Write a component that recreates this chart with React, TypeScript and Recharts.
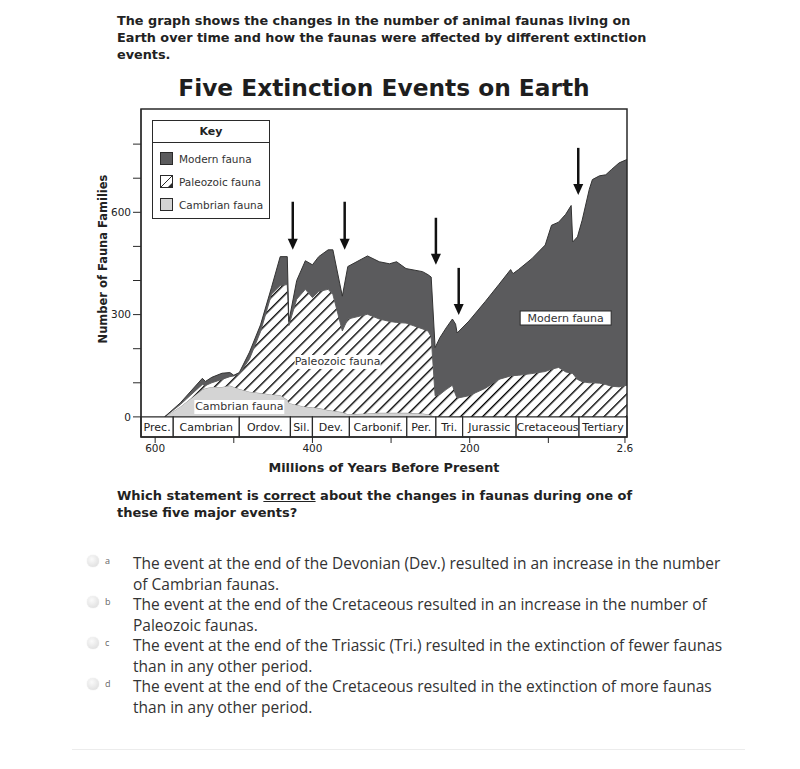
import { ComposedChart, Area, XAxis, YAxis, ReferenceArea, ReferenceLine, ReferenceDot, Legend } from "recharts"

// millions of years before present (graph position)
const ages = [588, 568, 540, 536, 528, 515, 505, 500, 493, 480, 466, 452, 441, 432, 430, 420, 409, 400, 392, 380, 374, 362, 355, 330, 315, 302, 293, 281, 260, 253, 249, 244, 238, 230, 222, 218, 216, 201, 180, 163, 148, 145, 138, 121, 104, 96, 87, 78, 71, 69, 63, 57, 48, 44, 35, 27, 20, 10, 0]
const cambrianFauna = [0, 30, 80, 84, 88, 88, 92, 88, 82, 74, 70, 66, 64, 50, 41, 35, 30, 28, 26, 20, 18, 14, 8, 10, 12, 12, 12, 12, 10, 8, 5, 0, 0, 0, 0, 0, 0, 0, 0, 0, 0, 0, 0, 0, 0, 0, 0, 0, 0, 0, 0, 0, 0, 0, 0, 0, 0, 0, 0]
const paleozoicFauna = [0, 6, 15, 8, 12, 22, 26, 32, 44, 96, 180, 294, 321, 338, 227, 310, 344, 322, 342, 354, 341, 238, 279, 291, 275, 268, 265, 263, 248, 244, 230, 62, 66, 80, 93, 65, 55, 62, 84, 110, 120, 121, 122, 127, 133, 140, 145, 132, 128, 127, 110, 103, 100, 100, 99, 95, 90, 88, 93]
const modernFauna = [0, 5, 18, 12, 16, 18, 12, 2, 4, 20, 20, 20, 85, 82, 12, 55, 84, 96, 102, 116, 131, 102, 154, 171, 168, 169, 178, 160, 168, 165, 175, 141, 166, 181, 194, 207, 191, 219, 255, 278, 312, 299, 310, 337, 371, 422, 426, 462, 492, 386, 418, 474, 567, 596, 608, 615, 635, 657, 662]

const periodNames = ["Prec.", "Cambrian", "Ordov.", "Sil.", "Dev.", "Carbonif.", "Per.", "Tri.", "Jurassic", "Cretaceous", "Tertiary"]
const periodStarts = [618, 577, 493, 428, 400, 353, 280, 243, 209, 141, 61]
const periodEnds = [577, 493, 428, 400, 353, 280, 243, 209, 141, 61, 0]

const xTicks = [600, 500, 400, 300, 200, 100, 2.6]
const xTickLabels = ["600", "", "400", "", "200", "", "2.6"]
const yTicks = [0, 100, 200, 300, 400, 500, 600, 700, 800]
const yTickLabels = ["0", "", "", "300", "", "", "600", "", ""]

const keyOrder = ["Modern fauna", "Paleozoic fauna", "Cambrian fauna"]

// the five extinction events
const eventAges = [425, 359, 243, 214, 62]
const eventArrowTops = [631, 631, 584, 437, 789]
const eventArrowTips = [490, 490, 446, 299, 651]

const data = ages.map((age, i) => ({
  age,
  cambrian: cambrianFauna[i],
  paleozoic: paleozoicFauna[i],
  modern: modernFauna[i],
}))

const Y_MIN = -59
const Y_MAX = 903
const X_MAX = 618
const INK = "#2a2a2a"
const MODERN = "#5b5b5d"
const CAMBRIAN = "#d4d4d4"

const options = [
  ["a", "The event at the end of the Devonian (Dev.) resulted in an increase in the number", "of Cambrian faunas."],
  ["b", "The event at the end of the Cretaceous resulted in an increase in the number of", "Paleozoic faunas."],
  ["c", "The event at the end of the Triassic (Tri.) resulted in the extinction of fewer faunas", "than in any other period."],
  ["d", "The event at the end of the Cretaceous resulted in the extinction of more faunas", "than in any other period."],
]

function Arrow(props: any) {
  const { x1, y1, x2, y2 } = props
  return (
    <g>
      <line x1={x1} y1={y1} x2={x2} y2={y2 - 9} stroke="#111" strokeWidth={2.5} />
      <polygon points={`${x2 - 5},${y2 - 11} ${x2 + 5},${y2 - 11} ${x2},${y2}`} fill="#111" />
    </g>
  )
}

function Tag({ cx, cy, text, width, boxed }: any) {
  return (
    <g>
      <rect x={cx - width / 2} y={cy - 7} width={width} height={14} fill="#fff" stroke={boxed ? INK : "none"} strokeWidth={1} />
      <text x={cx} y={cy} textAnchor="middle" dominantBaseline="central" fontSize={11} fill="#333">
        {text}
      </text>
    </g>
  )
}

function Swatch({ name }: { name: string }) {
  if (name === "Paleozoic fauna") {
    return (
      <svg width={13} height={13} style={{ display: "block", flex: "none" }}>
        <rect x={0.5} y={0.5} width={12} height={12} fill="#fff" stroke={INK} />
        <line x1={1} y1={12} x2={12} y2={1} stroke={INK} />
        <polygon points="12,8 12,12 8,12" fill={INK} />
      </svg>
    )
  }
  return (
    <svg width={13} height={13} style={{ display: "block", flex: "none" }}>
      <rect x={0.5} y={0.5} width={12} height={12} fill={name === "Modern fauna" ? MODERN : CAMBRIAN} stroke={INK} />
    </svg>
  )
}

function KeyBox(props: any) {
  const items = [...(props.payload || [])].sort((a: any, b: any) => keyOrder.indexOf(a.value) - keyOrder.indexOf(b.value))
  return (
    <div style={{ border: `1.5px solid ${INK}`, background: "#fff", width: 118, fontFamily: '"DejaVu Sans", sans-serif', boxSizing: "border-box" }}>
      <div style={{ textAlign: "center", fontWeight: "bold", fontSize: 11, height: 21, lineHeight: "21px", borderBottom: `1.5px solid ${INK}`, color: "#222" }}>Key</div>
      <div style={{ padding: "4px 0 2px 7px" }}>
        {items.map((it: any) => (
          <div key={it.value} style={{ display: "flex", alignItems: "center", height: 23, fontSize: 10.5, color: "#333", whiteSpace: "nowrap" }}>
            <Swatch name={it.value} />
            <span style={{ marginLeft: 6 }}>{it.value}</span>
          </div>
        ))}
      </div>
    </div>
  )
}

export default function App() {
  return (
    <div style={{ position: "relative", width: 800, height: 769, margin: -8, background: "#fff", fontFamily: '"DejaVu Sans", sans-serif', color: "#222", overflow: "hidden" }}>
      <div style={{ position: "absolute", left: 117, top: 12, fontSize: 12.8, fontWeight: "bold", lineHeight: "17px", whiteSpace: "nowrap" }}>
        The graph shows the changes in the number of animal faunas living on
        <br />
        Earth over time and how the faunas were affected by different extinction
        <br />
        events.
      </div>

      <div style={{ position: "absolute", left: 0, top: 60 }}>
        <ComposedChart width={700} height={430} data={data} margin={{ top: 49, right: 73, left: 0, bottom: 23 }}>
          <defs>
            <pattern id="hatch" patternUnits="userSpaceOnUse" width={7.8} height={7.8} patternTransform="rotate(45)">
              <rect width={7.8} height={7.8} fill="#fff" />
              <line x1={0.7} y1={0} x2={0.7} y2={7.8} stroke="#000" strokeWidth={1.4} />
            </pattern>
          </defs>
          <XAxis
            dataKey="age"
            type="number"
            domain={[0, X_MAX]}
            reversed
            allowDataOverflow
            ticks={xTicks}
            interval={0}
            tickFormatter={(v: number) => xTickLabels[xTicks.indexOf(v)] ?? ""}
            tickSize={6}
            height={30}
            axisLine={{ stroke: INK }}
            tickLine={{ stroke: INK }}
            tick={{ fontSize: 10.5, fill: "#222" }}
          />
          <YAxis
            type="number"
            domain={[Y_MIN, Y_MAX]}
            allowDataOverflow
            ticks={yTicks}
            interval={0}
            tickFormatter={(v: number) => yTickLabels[yTicks.indexOf(v)] ?? ""}
            tickSize={8}
            width={141}
            axisLine={{ stroke: INK }}
            tickLine={{ stroke: INK }}
            tick={{ fontSize: 10.5, fill: "#222" }}
          />
          <Legend
            layout="vertical"
            align="center"
            verticalAlign="middle"
            wrapperStyle={{ left: 152, top: 60, width: 118 }}
            content={KeyBox}
          />
          <Area type="linear" dataKey="cambrian" name="Cambrian fauna" stackId="f" fill={CAMBRIAN} fillOpacity={1} stroke="#8d8d8d" strokeWidth={1} dot={false} activeDot={false} isAnimationActive={false} />
          <Area type="linear" dataKey="paleozoic" name="Paleozoic fauna" stackId="f" fill="url(#hatch)" fillOpacity={1} stroke="#444" strokeWidth={0.8} dot={false} activeDot={false} isAnimationActive={false} />
          <Area type="linear" dataKey="modern" name="Modern fauna" stackId="f" fill={MODERN} fillOpacity={1} stroke="#333" strokeWidth={1} dot={false} activeDot={false} isAnimationActive={false} />

          {periodNames.map((name, i) => (
            <ReferenceArea
              key={name}
              x1={periodStarts[i]}
              x2={periodEnds[i]}
              y1={Y_MIN}
              y2={0}
              fill="#fff"
              fillOpacity={1}
              stroke={INK}
              strokeWidth={1.2}
              label={{ value: name, position: "center", fontSize: 11, fill: "#222" }}
            />
          ))}

          <ReferenceDot x={493} y={29} r={0} shape={(p: any) => <Tag {...p} text="Cambrian fauna" width={90} />} />
          <ReferenceDot x={368} y={161} r={0} shape={(p: any) => <Tag {...p} text="Paleozoic fauna" width={86} />} />
          <ReferenceDot x={78} y={290} r={0} shape={(p: any) => <Tag {...p} text="Modern fauna" width={91} boxed />} />

          {eventAges.map((a, i) => (
            <ReferenceLine
              key={a}
              segment={[
                { x: a, y: eventArrowTops[i] },
                { x: a, y: eventArrowTips[i] },
              ]}
              shape={Arrow}
            />
          ))}

          <ReferenceArea x1={X_MAX} x2={0} y1={Y_MIN} y2={Y_MAX} fill="none" stroke={INK} strokeWidth={1.5} />
        </ComposedChart>
      </div>

      <div style={{ position: "absolute", left: 0, width: 768, top: 74, textAlign: "center", fontSize: 23.3, fontWeight: "bold", color: "#1e1e1e", whiteSpace: "nowrap" }}>
        Five Extinction Events on Earth
      </div>

      <div style={{ position: "absolute", left: 3, top: 252, width: 200, textAlign: "center", fontSize: 11.5, fontWeight: "bold", transform: "rotate(-90deg)", whiteSpace: "nowrap" }}>
        Number of Fauna Families
      </div>

      <div style={{ position: "absolute", left: 0, width: 768, top: 460, textAlign: "center", fontSize: 12.8, fontWeight: "bold" }}>
        Millions of Years Before Present
      </div>

      <div style={{ position: "absolute", left: 117, top: 488, fontSize: 13, fontWeight: "bold", lineHeight: "16.5px", whiteSpace: "nowrap" }}>
        Which statement is <span style={{ textDecoration: "underline" }}>correct</span> about the changes in faunas during one of
        <br />
        these five major events?
      </div>

      {options.map(([letter, l1, l2], i) => (
        <div key={letter} style={{ position: "absolute", left: 0, top: 553 + i * 41, width: 800 }}>
          <div style={{ position: "absolute", left: 87, top: 2, width: 12, height: 12, borderRadius: "50%", background: "radial-gradient(circle at 40% 35%, #fafafa, #d9d9d9)", boxShadow: "0 0 1px #ccc" }} />
          <div style={{ position: "absolute", left: 105, top: 1, fontSize: 9, color: "#666", fontFamily: '"Open Sans", sans-serif' }}>{letter}</div>
          <div style={{ position: "absolute", left: 133, top: 0, fontSize: 15.5, lineHeight: "20.5px", color: "#333", fontFamily: '"Open Sans", sans-serif', whiteSpace: "nowrap" }}>
            {l1}
            <br />
            {l2}
          </div>
        </div>
      ))}

      <div style={{ position: "absolute", left: 72, top: 749, width: 673, height: 1, background: "#ececec" }} />
    </div>
  )
}
